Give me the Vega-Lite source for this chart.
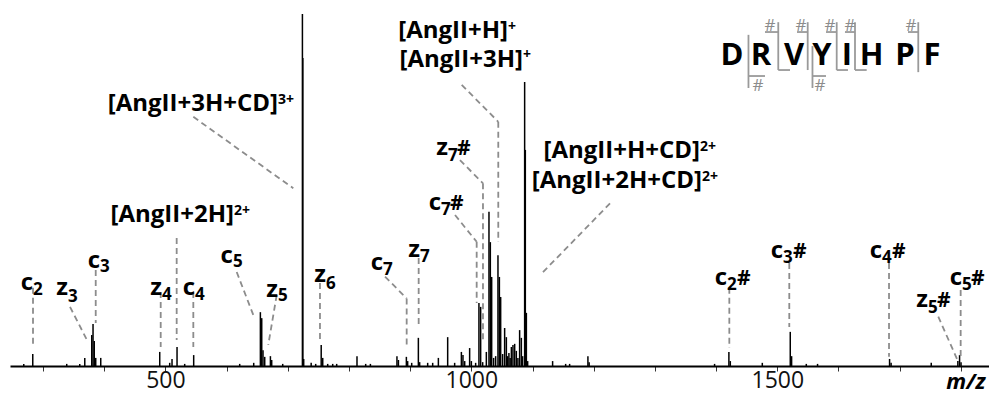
{
  "$schema": "https://vega.github.io/schema/vega-lite/v6.json",
  "width": 979,
  "height": 366,
  "autosize": {"type": "none"},
  "padding": {"left": 10, "top": 0, "right": 0, "bottom": 28},
  "background": "white",
  "view": {"stroke": null},
  "config": {"font": "Open Sans"},
  "datasets": {
    "peaks": [
      {"mz":268.5,"i":0.6},{"mz":283.2,"i":3.4},{"mz":338.7,"i":0.6},{"mz":360,"i":0.6},{"mz":368.2,"i":2.3},{"mz":379.6,"i":8.8},{"mz":381.7,"i":11.9},{"mz":383.7,"i":7.1},{"mz":386.1,"i":2.3},{"mz":394.3,"i":2.3},
      {"mz":490.7,"i":4.0},{"mz":507,"i":0.9},{"mz":510.8,"i":2.0},{"mz":519,"i":5.4},{"mz":531.5,"i":0.6},{"mz":546.2,"i":3.1},{"mz":621.4,"i":0.6},{"mz":644.3,"i":0.9},{"mz":655.2,"i":15.3},{"mz":657.4,"i":13.6},
      {"mz":659.5,"i":4.5},{"mz":662.3,"i":2.6},{"mz":671.6,"i":2.8},{"mz":673.7,"i":1.7},{"mz":691.7,"i":0.6},{"mz":723.9,"i":100},{"mz":724.6,"i":87.5},{"mz":726,"i":2.0},{"mz":738.2,"i":0.9},{"mz":745.6,"i":0.6},
      {"mz":754.6,"i":6.0},{"mz":757.1,"i":2.3},{"mz":765.2,"i":0.6},{"mz":773.4,"i":0.6},{"mz":779.9,"i":0.6},{"mz":813.1,"i":2.8},{"mz":827.3,"i":0.6},{"mz":835,"i":0.6},{"mz":878.4,"i":2.8},{"mz":880.8,"i":1.7},
      {"mz":893.8,"i":2.6},{"mz":895.9,"i":1.4},{"mz":902.5,"i":0.9},{"mz":913.4,"i":8.0},{"mz":915.5,"i":1.1},{"mz":928.6,"i":0.9},{"mz":936.8,"i":0.9},{"mz":946.1,"i":2.3},{"mz":961.3,"i":8.2},{"mz":972.7,"i":0.9},
      {"mz":983.7,"i":4.0},{"mz":986.3,"i":3.1},{"mz":989.1,"i":1.4},{"mz":997.2,"i":5.1},{"mz":1000,"i":1.4},{"mz":1007,"i":0.9},{"mz":1012.4,"i":17.9},{"mz":1015.2,"i":16.8},{"mz":1018.5,"i":1.1},{"mz":1024.5,"i":4.0},
      {"mz":1028.8,"i":43.8},{"mz":1031,"i":35.2},{"mz":1033.2,"i":25.3},{"mz":1036.4,"i":2.3},{"mz":1039.7,"i":2.8},{"mz":1043.5,"i":31.5},{"mz":1045.8,"i":25.3},{"mz":1047.9,"i":19.6},{"mz":1051.1,"i":3.4},{"mz":1054.4,"i":10.8},
      {"mz":1057.2,"i":8.2},{"mz":1059.3,"i":2.8},{"mz":1061.4,"i":3.7},{"mz":1063.4,"i":2.3},{"mz":1065.4,"i":5.4},{"mz":1068,"i":6.0},{"mz":1070.8,"i":6.3},{"mz":1073.5,"i":4.3},{"mz":1076.1,"i":2.3},{"mz":1078.9,"i":10.2},
      {"mz":1081.7,"i":8.0},{"mz":1083.8,"i":2.8},{"mz":1087.1,"i":80.7},{"mz":1088.2,"i":61.4},{"mz":1089.9,"i":15.1},{"mz":1092,"i":1.4},{"mz":1132.8,"i":1.4},{"mz":1154.1,"i":0.6},{"mz":1160.6,"i":0.6},{"mz":1190.5,"i":2.8},
      {"mz":1192.5,"i":1.1},{"mz":1397.5,"i":0.6},{"mz":1420.9,"i":4.0},{"mz":1423.2,"i":1.4},{"mz":1475.5,"i":0.9},{"mz":1521.2,"i":9.7},{"mz":1523.4,"i":2.8},{"mz":1547.4,"i":0.6},{"mz":1565.8,"i":0.6},{"mz":1683.5,"i":2.0},
      {"mz":1686,"i":0.9},{"mz":1751.6,"i":0.9},{"mz":1795.1,"i":1.4},{"mz":1797.9,"i":3.1},{"mz":1800.3,"i":1.1}
    ],
    "segs": [
      {"x1":283.6,"y1":22.2,"x2":283.6,"y2":6.0,"k":"lead"},
      {"x1":344.1,"y1":16.8,"x2":373.5,"y2":6.8,"k":"lead"},
      {"x1":386.1,"y1":27.3,"x2":386.1,"y2":12.2,"k":"lead"},
      {"x1":492.3,"y1":21.0,"x2":492.3,"y2":5.4,"k":"lead"},
      {"x1":518.4,"y1":36.4,"x2":518.4,"y2":7.4,"k":"lead"},
      {"x1":545.6,"y1":21.0,"x2":545.6,"y2":5.4,"k":"lead"},
      {"x1":616.5,"y1":26.7,"x2":643.6,"y2":14.5,"k":"lead"},
      {"x1":681.9,"y1":20.2,"x2":668.1,"y2":6.0,"k":"lead"},
      {"x1":545.6,"y1":70.8,"x2":709.0,"y2":50.5,"k":"lead"},
      {"x1":752.6,"y1":23.6,"x2":752.6,"y2":7.4,"k":"lead"},
      {"x1":858.9,"y1":25.4,"x2":894.3,"y2":19.2,"k":"lead"},
      {"x1":894.3,"y1":19.2,"x2":894.3,"y2":6.0,"k":"lead"},
      {"x1":913.9,"y1":30.7,"x2":913.9,"y2":10.8,"k":"lead"},
      {"x1":973.3,"y1":42.9,"x2":1008.7,"y2":35.3,"k":"lead"},
      {"x1":1008.7,"y1":35.3,"x2":1008.7,"y2":17.9,"k":"lead"},
      {"x1":981.4,"y1":58.5,"x2":1019.0,"y2":51.9,"k":"lead"},
      {"x1":1019.0,"y1":51.9,"x2":1019.0,"y2":7.4,"k":"lead"},
      {"x1":984.2,"y1":79.9,"x2":1044.0,"y2":69.4,"k":"lead"},
      {"x1":1044.0,"y1":69.4,"x2":1044.0,"y2":35.2,"k":"lead"},
      {"x1":1226.6,"y1":46.2,"x2":1115.0,"y2":26.3,"k":"lead"},
      {"x1":1421.6,"y1":22.2,"x2":1421.6,"y2":5.1,"k":"lead"},
      {"x1":1519.6,"y1":29.3,"x2":1519.6,"y2":11.1,"k":"lead"},
      {"x1":1682.6,"y1":29.3,"x2":1682.6,"y2":2.6,"k":"lead"},
      {"x1":1799.7,"y1":21.6,"x2":1799.7,"y2":1.7,"k":"lead"},
      {"x1":1763.1,"y1":14.0,"x2":1795.8,"y2":1.2,"k":"lead"},
      {"x1":1452.9,"y1":94.1,"x2":1452.9,"y2":79.0,"k":"seq"},
      {"x1":1452.9,"y1":82.4,"x2":1479.9,"y2":82.4,"k":"seq"},
      {"x1":1501.6,"y1":97.7,"x2":1501.6,"y2":84.1,"k":"seq"},
      {"x1":1479.9,"y1":94.9,"x2":1501.6,"y2":94.9,"k":"seq"},
      {"x1":1501.6,"y1":84.1,"x2":1520.8,"y2":84.1,"k":"seq"},
      {"x1":1549.7,"y1":97.7,"x2":1549.7,"y2":84.1,"k":"seq"},
      {"x1":1532.2,"y1":94.9,"x2":1549.7,"y2":94.9,"k":"seq"},
      {"x1":1557.5,"y1":90.9,"x2":1557.5,"y2":79.0,"k":"seq"},
      {"x1":1557.5,"y1":82.4,"x2":1579.6,"y2":82.4,"k":"seq"},
      {"x1":1597.1,"y1":97.7,"x2":1597.1,"y2":84.1,"k":"seq"},
      {"x1":1579.6,"y1":94.9,"x2":1597.1,"y2":94.9,"k":"seq"},
      {"x1":1597.1,"y1":84.1,"x2":1615.5,"y2":84.1,"k":"seq"},
      {"x1":1627.0,"y1":97.7,"x2":1627.0,"y2":84.1,"k":"seq"},
      {"x1":1610.6,"y1":94.9,"x2":1627.0,"y2":94.9,"k":"seq"},
      {"x1":1627.0,"y1":84.1,"x2":1646.1,"y2":84.1,"k":"seq"},
      {"x1":1730.4,"y1":97.7,"x2":1730.4,"y2":83.5,"k":"seq"},
      {"x1":1713.6,"y1":94.9,"x2":1730.4,"y2":94.9,"k":"seq"}
    ],
    "texts": [
      {"t":"c","mz":283.6,"i":21.6,"k":"ion"},{"t":"z","mz":340.8,"i":20.2,"k":"ion"},{"t":"c","mz":393.1,"i":27.8,"k":"ion"},{"t":"z","mz":494.4,"i":20.2,"k":"ion"},{"t":"c","mz":548.4,"i":20.2,"k":"ion"},
      {"t":"c","mz":610.4,"i":29.3,"k":"ion"},{"t":"z","mz":684.0,"i":19.6,"k":"ion"},{"t":"z","mz":762.4,"i":23.9,"k":"ion"},{"t":"c","mz":855.6,"i":27.3,"k":"ion"},{"t":"z","mz":916.1,"i":31.0,"k":"ion"},
      {"t":"c","mz":1417.8,"i":23.0,"k":"ion"},{"t":"c","mz":1509.3,"i":30.7,"k":"ion"},{"t":"c","mz":1671.1,"i":30.7,"k":"ion"},{"t":"c","mz":1801.9,"i":23.0,"k":"ion"},{"t":"z","mz":1746.3,"i":16.8,"k":"ion"},
      {"t":"z","mz":961.8,"i":60.0,"k":"ion"},{"t":"c","mz":950.4,"i":44.3,"k":"ion"},
      {"t":"2","mz":283.6,"i":20.2,"k":"sub"},{"t":"3","mz":340.8,"i":18.2,"k":"sub"},{"t":"3","mz":393.1,"i":26.7,"k":"sub"},{"t":"4","mz":494.4,"i":18.8,"k":"sub"},{"t":"4","mz":548.4,"i":18.8,"k":"sub"},
      {"t":"5","mz":610.4,"i":28.1,"k":"sub"},{"t":"5","mz":684.0,"i":18.5,"k":"sub"},{"t":"6","mz":762.4,"i":21.9,"k":"sub"},{"t":"7","mz":855.6,"i":25.9,"k":"sub"},{"t":"7","mz":916.1,"i":29.6,"k":"sub"},
      {"t":"2","mz":1417.8,"i":21.6,"k":"sub"},{"t":"3","mz":1509.3,"i":29.3,"k":"sub"},{"t":"4","mz":1671.1,"i":29.3,"k":"sub"},{"t":"5","mz":1801.9,"i":21.6,"k":"sub"},{"t":"5","mz":1746.3,"i":15.1,"k":"sub"},
      {"t":"7","mz":961.8,"i":58.3,"k":"sub"},{"t":"7","mz":950.4,"i":42.9,"k":"sub"},
      {"t":"#","mz":1434.1,"i":23.0,"k":"hash"},{"t":"#","mz":1525.7,"i":30.7,"k":"hash"},{"t":"#","mz":1687.5,"i":30.7,"k":"hash"},{"t":"#","mz":1816.6,"i":23.0,"k":"hash"},{"t":"#","mz":1761.0,"i":16.8,"k":"hash"},
      {"t":"#","mz":976.5,"i":60.0,"k":"hash"},{"t":"#","mz":965.1,"i":44.3,"k":"hash"},
      {"t":"[AngII+3H+CD]","mz":684.0,"i":72.5,"k":"ang"},{"t":"[AngII+2H]","mz":612.1,"i":40.9,"k":"ang"},{"t":"[AngII+H]","mz":1059.9,"i":93.1,"k":"ang"},
      {"t":"[AngII+3H]","mz":1084.4,"i":85.1,"k":"ang"},{"t":"[AngII+H+CD]","mz":1373.7,"i":59.1,"k":"ang"},{"t":"[AngII+2H+CD]","mz":1376.9,"i":50.6,"k":"ang"},
      {"t":"3+","mz":684.0,"i":74.4,"k":"sup"},{"t":"2+","mz":612.1,"i":42.9,"k":"sup"},{"t":"+","mz":1059.9,"i":95.2,"k":"sup"},
      {"t":"+","mz":1084.4,"i":87.2,"k":"sup"},{"t":"2+","mz":1373.7,"i":61.1,"k":"sup"},{"t":"2+","mz":1376.9,"i":52.6,"k":"sup"},
      {"t":"D","mz":1426.0,"i":85.5,"k":"seq"},{"t":"R","mz":1473.4,"i":85.5,"k":"seq"},{"t":"V","mz":1527.3,"i":85.5,"k":"seq"},{"t":"Y","mz":1573.1,"i":85.5,"k":"seq"},
      {"t":"I","mz":1613.9,"i":85.5,"k":"seq"},{"t":"H","mz":1654.0,"i":85.5,"k":"seq"},{"t":"P","mz":1708.7,"i":85.5,"k":"seq"},{"t":"F","mz":1752.8,"i":85.5,"k":"seq"},
      {"t":"#","mz":1488.1,"i":95.2,"k":"seqhash"},{"t":"#","mz":1538.7,"i":95.2,"k":"seqhash"},{"t":"#","mz":1586.1,"i":95.2,"k":"seqhash"},{"t":"#","mz":1618.8,"i":95.2,"k":"seqhash"},
      {"t":"#","mz":1718.5,"i":95.2,"k":"seqhash"},{"t":"#","mz":1468.5,"i":78.1,"k":"seqhash"},{"t":"#","mz":1569.8,"i":78.1,"k":"seqhash"}
    ]
  },
  "layer": [
    {
      "data": {"name": "peaks"},
      "mark": {"type": "rule", "color": "black", "strokeWidth": 1.5},
      "encoding": {
        "x": {"field": "mz", "type": "quantitative", "scale": {"domain": [246, 1846], "nice": false, "zero": false},
          "axis": {"values": [300,400,500,600,700,800,900,1000,1100,1200,1300,1400,1500,1600,1700,1800],
            "labelExpr": "datum.value % 500 === 0 ? datum.label : ''",
            "format": "d", "grid": false, "domainColor": "black", "domainWidth": 2,
            "tickColor": "#333", "tickSize": 5, "tickWidth": 1,
            "labelFont": "Open Sans", "labelFontSize": 23, "labelColor": "#111", "labelPadding": -2, "labelFlush": false, "labelBound": false,
            "title": "m/z", "titleFont": "Open Sans", "titleFontSize": 22, "titleFontWeight": "bold", "titleFontStyle": "italic",
            "titleColor": "black", "titleAlign": "right", "titleAnchor": null, "titleX": 975, "titleY": 22, "titleBaseline": "alphabetic"}},
        "y": {"field": "i", "type": "quantitative", "scale": {"domain": [0, 104], "nice": false}, "axis": null},
        "y2": {"datum": 0}
      }
    },
    {
      "data": {"name": "segs"},
      "transform": [{"filter": "datum.k === 'lead'"}],
      "mark": {"type": "rule", "color": "#8c8c8c", "strokeWidth": 1.8, "strokeDash": [6, 4]},
      "encoding": {
        "x": {"field": "x1", "type": "quantitative", "scale": {"domain": [246, 1846], "nice": false, "zero": false}},
        "x2": {"field": "x2"},
        "y": {"field": "y1", "type": "quantitative", "scale": {"domain": [0, 104], "nice": false}},
        "y2": {"field": "y2"}
      }
    },
    {
      "data": {"name": "segs"},
      "transform": [{"filter": "datum.k === 'seq'"}],
      "mark": {"type": "rule", "color": "#9a9a9a", "strokeWidth": 1.8},
      "encoding": {
        "x": {"field": "x1", "type": "quantitative", "scale": {"domain": [246, 1846], "nice": false, "zero": false}},
        "x2": {"field": "x2"},
        "y": {"field": "y1", "type": "quantitative", "scale": {"domain": [0, 104], "nice": false}},
        "y2": {"field": "y2"}
      }
    },
    {
      "data": {"name": "texts"},
      "transform": [{"filter": "datum.k === 'ion'"}],
      "mark": {"type": "text", "align": "right", "baseline": "alphabetic", "font": "Open Sans", "fontSize": 24, "fontWeight": "bold", "color": "black"},
      "encoding": {
        "x": {"field": "mz", "type": "quantitative", "scale": {"domain": [246, 1846], "nice": false, "zero": false}},
        "y": {"field": "i", "type": "quantitative", "scale": {"domain": [0, 104], "nice": false}},
        "text": {"field": "t"}
      }
    },
    {
      "data": {"name": "texts"},
      "transform": [{"filter": "datum.k === 'sub'"}],
      "mark": {"type": "text", "align": "left", "baseline": "alphabetic", "font": "Open Sans", "fontSize": 17, "fontWeight": "bold", "color": "black"},
      "encoding": {
        "x": {"field": "mz", "type": "quantitative", "scale": {"domain": [246, 1846], "nice": false, "zero": false}},
        "y": {"field": "i", "type": "quantitative", "scale": {"domain": [0, 104], "nice": false}},
        "text": {"field": "t"}
      }
    },
    {
      "data": {"name": "texts"},
      "transform": [{"filter": "datum.k === 'hash'"}],
      "mark": {"type": "text", "align": "left", "baseline": "alphabetic", "font": "Open Sans", "fontSize": 21, "fontWeight": "bold", "color": "black"},
      "encoding": {
        "x": {"field": "mz", "type": "quantitative", "scale": {"domain": [246, 1846], "nice": false, "zero": false}},
        "y": {"field": "i", "type": "quantitative", "scale": {"domain": [0, 104], "nice": false}},
        "text": {"field": "t"}
      }
    },
    {
      "data": {"name": "texts"},
      "transform": [{"filter": "datum.k === 'ang'"}],
      "mark": {"type": "text", "align": "right", "baseline": "alphabetic", "font": "Open Sans", "fontSize": 24, "fontWeight": "bold", "color": "black"},
      "encoding": {
        "x": {"field": "mz", "type": "quantitative", "scale": {"domain": [246, 1846], "nice": false, "zero": false}},
        "y": {"field": "i", "type": "quantitative", "scale": {"domain": [0, 104], "nice": false}},
        "text": {"field": "t"}
      }
    },
    {
      "data": {"name": "texts"},
      "transform": [{"filter": "datum.k === 'sup'"}],
      "mark": {"type": "text", "align": "left", "baseline": "alphabetic", "font": "Open Sans", "fontSize": 14, "fontWeight": "bold", "color": "black"},
      "encoding": {
        "x": {"field": "mz", "type": "quantitative", "scale": {"domain": [246, 1846], "nice": false, "zero": false}},
        "y": {"field": "i", "type": "quantitative", "scale": {"domain": [0, 104], "nice": false}},
        "text": {"field": "t"}
      }
    },
    {
      "data": {"name": "texts"},
      "transform": [{"filter": "datum.k === 'seq'"}],
      "mark": {"type": "text", "align": "center", "baseline": "alphabetic", "font": "Open Sans", "fontSize": 31, "fontWeight": "bold", "color": "black"},
      "encoding": {
        "x": {"field": "mz", "type": "quantitative", "scale": {"domain": [246, 1846], "nice": false, "zero": false}},
        "y": {"field": "i", "type": "quantitative", "scale": {"domain": [0, 104], "nice": false}},
        "text": {"field": "t"}
      }
    },
    {
      "data": {"name": "texts"},
      "transform": [{"filter": "datum.k === 'seqhash'"}],
      "mark": {"type": "text", "align": "center", "baseline": "alphabetic", "font": "Open Sans", "fontSize": 17, "fontWeight": "normal", "color": "#8c8c8c"},
      "encoding": {
        "x": {"field": "mz", "type": "quantitative", "scale": {"domain": [246, 1846], "nice": false, "zero": false}},
        "y": {"field": "i", "type": "quantitative", "scale": {"domain": [0, 104], "nice": false}},
        "text": {"field": "t"}
      }
    }
  ]
}
